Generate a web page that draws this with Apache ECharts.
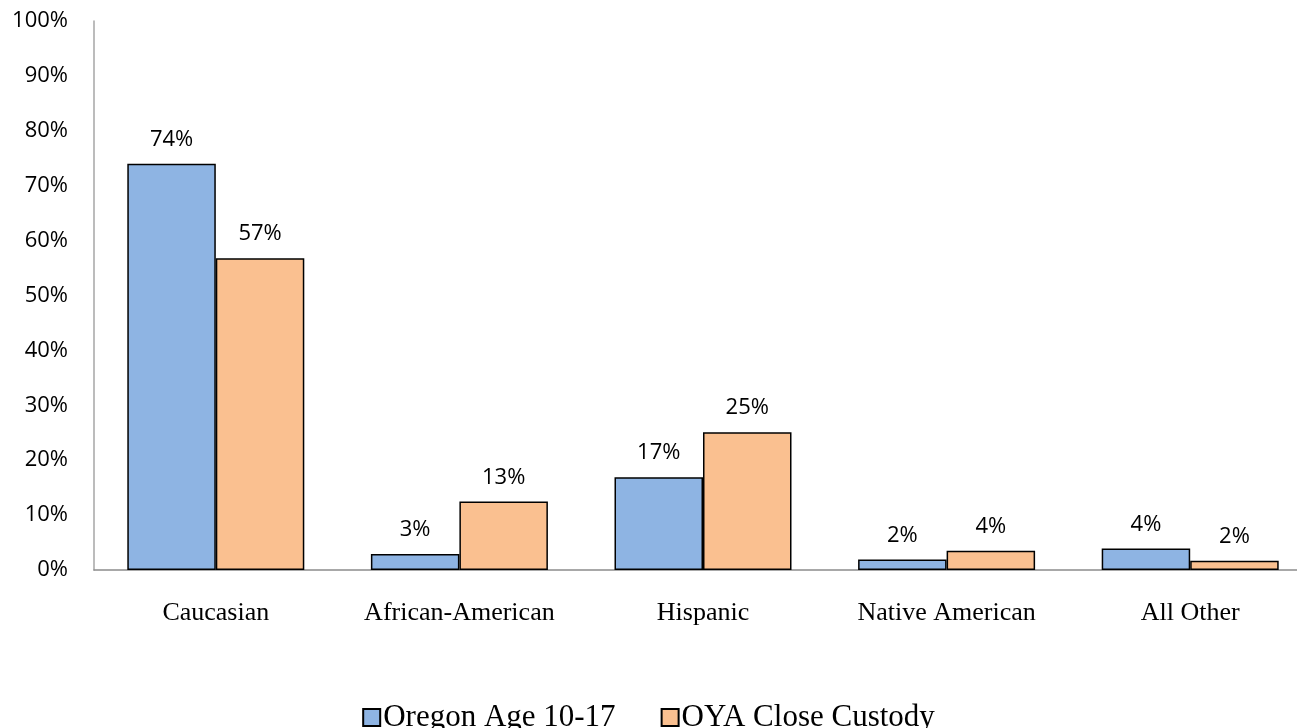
<!DOCTYPE html>
<html>
<head>
<meta charset="utf-8">
<script src="https://cdn.jsdelivr.net/npm/echarts@6/dist/echarts.min.js"></script>
<style>
  html, body { margin: 0; padding: 0; background: #ffffff; }
  #chart { width: 1297px; height: 728px; }
</style>
</head>
<body>
<div id="chart"></div>
<script>
// Share of youth by race/ethnicity (percent)
const categories = ['Caucasian', 'African-American', 'Hispanic', 'Native American', 'All Other'];
const seriesNames = ['Oregon Age 10-17', 'OYA Close Custody'];
const oregonAge = [74, 2.9, 16.9, 1.9, 3.9];
const oyaCustody = [56.8, 12.5, 25.1, 3.5, 1.7];
const yTicks = [0, 10, 20, 30, 40, 50, 60, 70, 80, 90, 100];

const chart = echarts.init(document.getElementById('chart'));

const sansFont = '"Open Sans", "Liberation Sans", sans-serif';
const serifFont = '"Liberation Serif", "DejaVu Serif", serif';

function barSeries(name, values, color) {
  return {
    name: name,
    type: 'bar',
    data: values,
    barWidth: 88.5,
    barGap: '0%',
    itemStyle: { color: color, borderColor: '#000000', borderWidth: 1.5 },
    label: {
      show: true,
      position: 'top',
      distance: 13,
      fontFamily: sansFont,
      fontSize: 22,
      color: '#000000',
      formatter: p => Math.round(p.value) + '%'
    }
  };
}

chart.setOption({
  animation: false,
  backgroundColor: '#ffffff',
  // plot area runs a little past the right edge of the canvas
  grid: {
    left: 94, top: 21, width: 1218, height: 549,
    containLabel: false,
    outerBoundsMode: 'none'
  },
  legend: {
    left: 'center',
    top: 697,
    icon: 'rect',
    itemWidth: 17,
    itemHeight: 17,
    itemGap: 45,
    textStyle: { fontFamily: serifFont, fontSize: 31, color: '#000000', padding: [0, 0, 0, -2] },
    data: seriesNames
  },
  xAxis: {
    type: 'category',
    data: categories,
    axisLine: { show: true, lineStyle: { color: '#8c8c8c', width: 1.5 } },
    axisTick: { show: false },
    axisLabel: {
      interval: 0,
      hideOverlap: false,
      fontFamily: serifFont,
      fontSize: 26,
      color: '#000000',
      margin: 30
    }
  },
  yAxis: {
    type: 'value',
    min: yTicks[0],
    max: yTicks[yTicks.length - 1],
    interval: yTicks[1] - yTicks[0],
    splitLine: { show: false },
    axisTick: { show: false },
    axisLine: { show: true, lineStyle: { color: '#a6a6a6', width: 1.5 } },
    axisLabel: {
      fontFamily: sansFont,
      fontSize: 22,
      color: '#000000',
      margin: 26,
      formatter: v => v + '%'
    }
  },
  series: [
    barSeries(seriesNames[0], oregonAge, '#8eb4e3'),
    barSeries(seriesNames[1], oyaCustody, '#fac090')
  ]
});
</script>
</body>
</html>
